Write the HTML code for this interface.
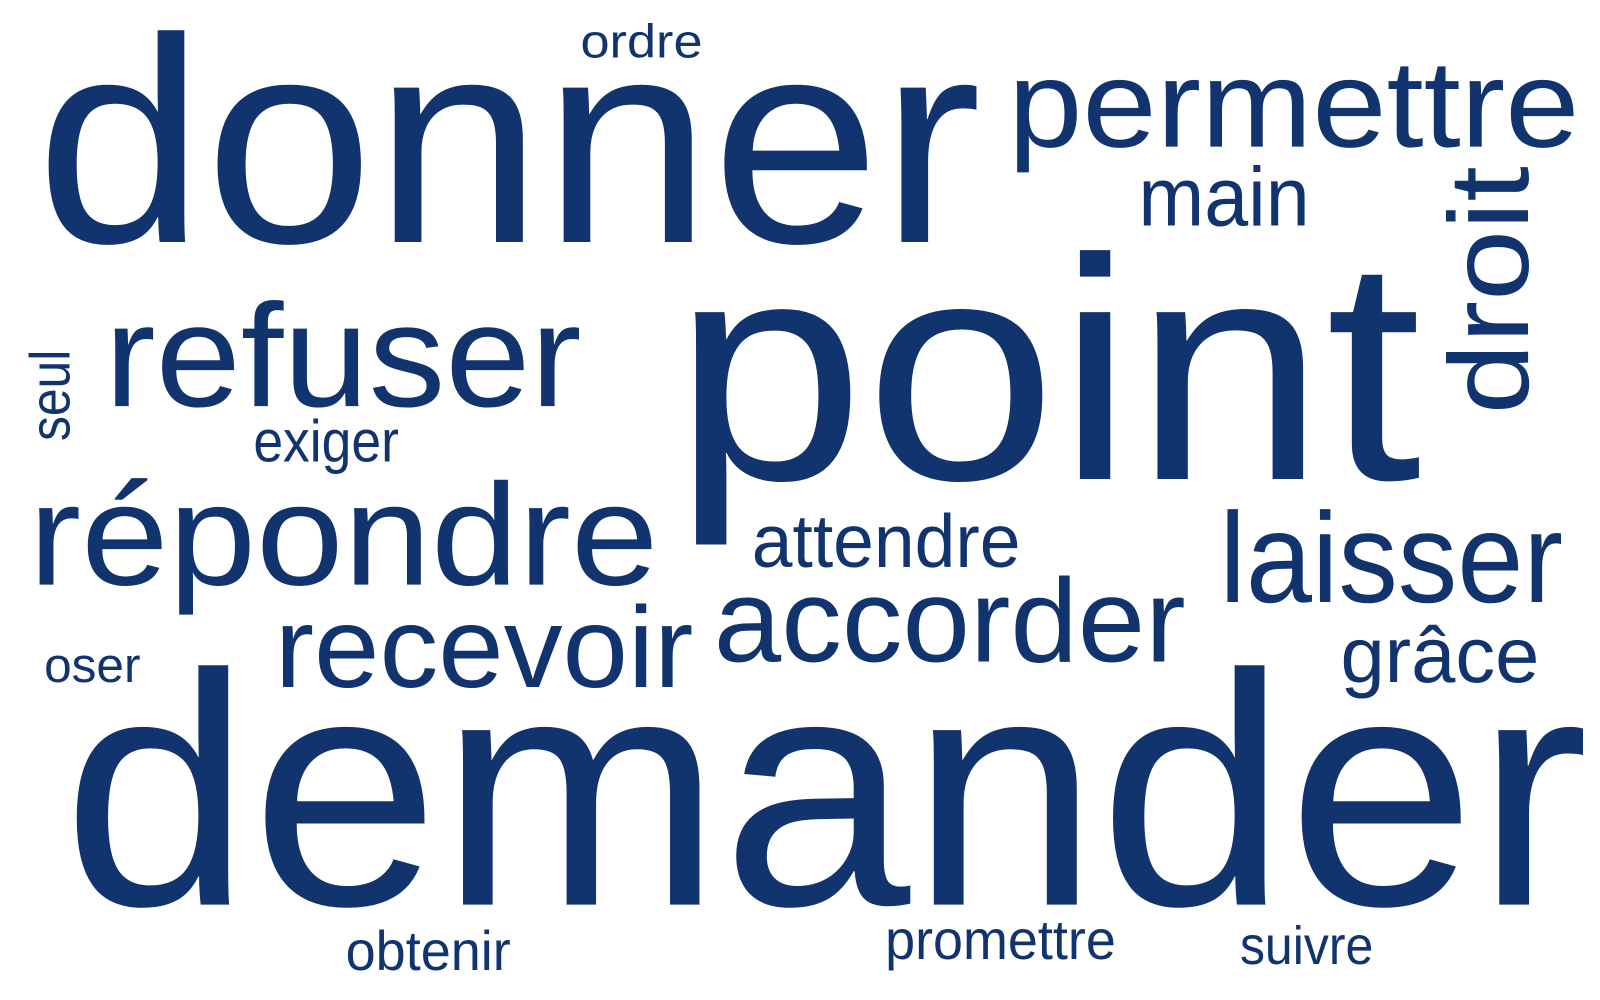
<!DOCTYPE html>
<html><head><meta charset="utf-8"><style>
html,body{margin:0;padding:0;background:#fff;}
svg{display:block}
text{font-family:"Liberation Sans","DejaVu Sans",sans-serif;fill:#11346f;}
</style></head><body>
<svg width="1600" height="1000" viewBox="0 0 1600 1000">
<g transform="scale(1.0256)">
<text x="35" y="236" font-size="285" textLength="922" lengthAdjust="spacingAndGlyphs">donner</text>
<text x="566" y="56" font-size="46" textLength="119" lengthAdjust="spacingAndGlyphs">ordre</text>
<text x="983" y="143" font-size="121" textLength="557" lengthAdjust="spacingAndGlyphs">permettre</text>
<text x="1110" y="220" font-size="81" textLength="167" lengthAdjust="spacingAndGlyphs">main</text>
<text transform="translate(1490,404) rotate(-90)" x="0" y="0" font-size="110" textLength="242" lengthAdjust="spacingAndGlyphs">droit</text>
<text x="656" y="467" font-size="308" textLength="730" lengthAdjust="spacingAndGlyphs">point</text>
<text x="102" y="396" font-size="143" textLength="465" lengthAdjust="spacingAndGlyphs">refuser</text>
<text transform="translate(68,430) rotate(-90)" x="0" y="0" font-size="55" textLength="89" lengthAdjust="spacingAndGlyphs">seul</text>
<text x="247" y="450" font-size="58" textLength="142" lengthAdjust="spacingAndGlyphs">exiger</text>
<text x="28" y="570" font-size="141" textLength="614" lengthAdjust="spacingAndGlyphs">répondre</text>
<text x="733" y="553" font-size="73" textLength="262" lengthAdjust="spacingAndGlyphs">attendre</text>
<text x="1189" y="587" font-size="125" textLength="335" lengthAdjust="spacingAndGlyphs">laisser</text>
<text x="268" y="670" font-size="112" textLength="408" lengthAdjust="spacingAndGlyphs">recevoir</text>
<text x="696" y="645" font-size="116" textLength="460" lengthAdjust="spacingAndGlyphs">accorder</text>
<text x="1307" y="665" font-size="77" textLength="194" lengthAdjust="spacingAndGlyphs">grâce</text>
<text x="43" y="665" font-size="48" textLength="94" lengthAdjust="spacingAndGlyphs">oser</text>
<text x="61" y="882" font-size="322" textLength="1488" lengthAdjust="spacingAndGlyphs">demander</text>
<text x="337" y="946" font-size="54" textLength="161" lengthAdjust="spacingAndGlyphs">obtenir</text>
<text x="863" y="935" font-size="54" textLength="225" lengthAdjust="spacingAndGlyphs">promettre</text>
<text x="1209" y="940" font-size="52" textLength="130" lengthAdjust="spacingAndGlyphs">suivre</text>
</g>
</svg>
</body></html>
